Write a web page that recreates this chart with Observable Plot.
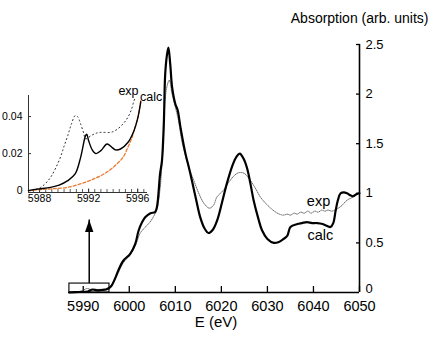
<!DOCTYPE html>
<html><head><meta charset="utf-8">
<script src="https://cdn.jsdelivr.net/npm/d3@7"></script>
<script src="https://cdn.jsdelivr.net/npm/@observablehq/plot@0.6"></script>
<style>
body{margin:0;background:#fff;}
#wrap{position:relative;width:431px;height:340px;font-family:"Liberation Sans",Arial,Helvetica,sans-serif;}
#wrap svg{position:absolute;left:0;top:0;overflow:visible;}
</style></head><body><div id="wrap"></div>
<script>
// ---- main spectrum: calculated ----
const calcE = [5987,5989,5991,5992,5993,5994,5995,5996,5997,5997.6,5998.7,6000.2,6001.3,6002,6002.8,6003.5,6004.6,6005.6,6006.0,6006.7,6007.1,6007.5,6007.8,6008.2,6008.5,6008.9,6009.3,6010.0,6010.5,6011.1,6012.2,6013.0,6013.6,6014.5,6015.4,6016.3,6017.2,6018.1,6019.1,6020.1,6021.2,6022.4,6023.3,6024.0,6024.8,6025.6,6026.3,6027.0,6028.0,6028.8,6030.0,6031.4,6032.5,6033.5,6034.3,6035.0,6036.5,6037.5,6038.6,6039.7,6040.8,6042.0,6043.0,6043.7,6044.3,6044.8,6045.3,6045.9,6046.6,6047.3,6048.0,6048.6,6049.3,6050];
const calcA = [0.0,0.005,0.01,0.03,0.022,0.025,0.03,0.06,0.15,0.22,0.32,0.39,0.49,0.62,0.71,0.76,0.80,0.81,0.86,1.2,1.33,1.70,2.2,2.4,2.47,2.3,2.07,1.9,1.84,1.67,1.40,1.25,1.13,0.94,0.76,0.65,0.60,0.63,0.73,0.9,1.10,1.28,1.37,1.40,1.35,1.25,1.10,0.93,0.75,0.63,0.54,0.50,0.51,0.54,0.57,0.66,0.69,0.70,0.71,0.70,0.70,0.69,0.67,0.66,0.70,0.82,0.93,1.0,1.01,1.0,0.98,0.97,0.99,1.0];
// ---- main spectrum: experimental ----
const expE = [5987,5988.5,5989.7,5990.8,5991.8,5993,5994.3,5995.5,5996.5,5997.6,5998.7,6000.2,6001.3,6002.4,6003.5,6004.5,6005.2,6006.0,6006.7,6007.1,6007.5,6007.8,6008.3,6008.7,6009.3,6010.0,6010.7,6011.4,6012.2,6013.0,6014.0,6015.0,6016.2,6017.4,6018.3,6019.0,6019.8,6020.6,6021.6,6022.6,6023.4,6024.1,6025.0,6026.3,6027.4,6028.5,6029.6,6030.7,6031.8,6032.6,6033.5,6034.3,6035.0,6035.8,6036.5,6037.2,6038.0,6038.8,6039.5,6040.3,6041.0,6041.8,6042.5,6043.2,6044.0,6045.0,6046.0,6047.3,6048.5,6050];
const expA = [0.0,0.005,0.015,0.04,0.028,0.031,0.033,0.05,0.1,0.2,0.3,0.38,0.47,0.6,0.66,0.71,0.76,0.84,1.05,1.3,1.65,1.95,2.1,2.14,2.0,1.87,1.73,1.53,1.38,1.25,1.13,1.01,0.9,0.85,0.88,0.96,1.0,1.04,1.11,1.17,1.2,1.21,1.2,1.13,1.05,0.96,0.9,0.85,0.81,0.79,0.78,0.79,0.78,0.80,0.79,0.81,0.80,0.82,0.80,0.82,0.81,0.83,0.82,0.83,0.82,0.84,0.87,0.93,0.96,1.0];
const xTicks = [5990,6000,6010,6020,6030,6040,6050];
const yTicks = [0.5,1,1.5,2,2.5];
const yZeroTick = [0];
const zoomBox = {x1:5987, x2:5995.7, y1:0, y2:0.09};
const arrow = {x:5991.3, y1:0.09, y2:0.73};
const mainLabels = [{t:"exp", x:6041.1, y:0.92},{t:"calc", x:6041.5, y:0.575}];

// ---- inset (pre-edge) ----
const inCalcE = [5987.1,5987.8,5988.9,5989.6,5990.3,5990.9,5991.35,5991.75,5991.85,5992.0,5992.3,5992.6,5993.0,5993.5,5993.9,5994.2,5994.6,5995.2,5995.7,5996.0,5996.25];
const inCalcA = [0,0.0008,0.0018,0.003,0.0054,0.009,0.018,0.0297,0.0305,0.027,0.022,0.020,0.0216,0.0252,0.0234,0.022,0.0225,0.026,0.0324,0.039,0.048];
const inExpE = [5987.1,5987.6,5988.1,5988.5,5988.9,5989.3,5989.7,5990.0,5990.3,5990.6,5990.9,5991.1,5991.35,5991.6,5991.75,5992.2,5992.6,5993.0,5993.8,5994.3,5994.8,5995.2,5995.5,5995.7,5995.8];
const inExpA = [0,0.0005,0.0018,0.004,0.0072,0.012,0.018,0.024,0.0297,0.036,0.0405,0.040,0.036,0.031,0.028,0.0297,0.031,0.0315,0.0315,0.033,0.036,0.0396,0.044,0.0486,0.05];
const inBgE = [5987.1,5988,5989,5990.3,5991.5,5992.3,5993.0,5993.7,5994.3,5994.8,5995.2,5995.5,5995.7,5996.0,5996.25];
const inBgA = [0,0.0005,0.001,0.0018,0.004,0.006,0.0081,0.011,0.0144,0.018,0.0234,0.028,0.0324,0.039,0.0486];
const inXDomain = [5987.1,5996.8];
const inYDomain = [-0.001,0.0514];
const inXTicks = [5988,5992,5996];
const inXMinor = d3.range(5987.5,5996.8,0.5);
const inYTicks = [0,0.02,0.04];
const inLabels = [{t:"exp", x:5995.25, y:0.054},{t:"calc", x:5997.1, y:0.0505}];

const font = '"Liberation Sans",Arial,Helvetica,sans-serif';
const idx = a => d3.range(a.length);
const head = {draw(ctx){ctx.moveTo(0,-6);ctx.lineTo(4.2,6);ctx.lineTo(-4.2,6);ctx.closePath();}};

const main = Plot.plot({
  width:431, height:340, marginLeft:68, marginRight:72, marginTop:44, marginBottom:48,
  style:{background:"transparent", fontFamily:font, color:"black"},
  x:{domain:[5986.8,6050], label:null},
  y:{domain:[0,2.5], label:null},
  marks:[
    Plot.axisX(xTicks,{tickSize:-6, tickPadding:14, fontSize:14.5, tickFormat:d=>String(d), stroke:"black", strokeWidth:1.3, fill:"black"}),
    Plot.axisY(yTicks,{anchor:"right", tickSize:-4, tickPadding:10, fontSize:13, tickFormat:d=>String(d), stroke:"black", strokeWidth:1.3, fill:"black"}),
    Plot.axisY(yZeroTick,{anchor:"right", tickSize:0, tickPadding:6, dy:-4, fontSize:13, tickFormat:d=>String(d), fill:"black"}),
    Plot.ruleY([0],{stroke:"black", strokeWidth:1.6}),
    Plot.ruleX([6050],{stroke:"black", strokeWidth:1.6}),
    Plot.line(idx(expE),{x:i=>expE[i], y:i=>expA[i], stroke:"#555", strokeWidth:0.9, strokeDasharray:"1 1.2", curve:"catmull-rom"}),
    Plot.line(idx(calcE),{x:i=>calcE[i], y:i=>calcA[i], stroke:"black", strokeWidth:2.2, curve:"catmull-rom"}),
    Plot.rect([zoomBox],{x1:"x1", x2:"x2", y1:"y1", y2:"y2", fill:"none", stroke:"black", strokeWidth:1.1}),
    Plot.ruleX([arrow],{x:"x", y1:"y1", y2:"y2", stroke:"black", strokeWidth:1.5}),
    Plot.dot([arrow],{x:"x", y:"y2", symbol:head, fill:"black", stroke:"none", dy:6}),
    Plot.text(mainLabels,{x:"x", y:"y", text:"t", fontSize:14.5, fill:"black"}),
    Plot.text(["Absorption (arb. units)"],{frameAnchor:"top-right", dx:69, dy:-31, textAnchor:"end", fontSize:14, fill:"black"}),
    Plot.text(["E (eV)"],{frameAnchor:"bottom", dx:2, dy:34, fontSize:15, fill:"black"})
  ]
});

const inset = Plot.plot({
  width:170, height:210, marginLeft:28, marginRight:23, marginTop:95, marginBottom:18,
  style:{background:"transparent", fontFamily:font, color:"black"},
  x:{domain:inXDomain, label:null},
  y:{domain:inYDomain, label:null},
  marks:[
    Plot.axisX(inXMinor,{tickSize:-3, tickFormat:()=>"", stroke:"#333", strokeWidth:0.8}),
    Plot.axisX(inXTicks,{tickSize:-3.5, tickPadding:6, fontSize:10.5, tickFormat:d=>String(d), stroke:"#333", fill:"black"}),
    Plot.axisY(inYTicks,{tickSize:-3, tickPadding:9, fontSize:10.5, tickFormat:d=>d===0?"0":d.toFixed(2), stroke:"#333", fill:"black"}),
    Plot.ruleY([inYDomain[0]],{stroke:"#333", strokeWidth:1}),
    Plot.ruleX([inXDomain[0]],{stroke:"#333", strokeWidth:1}),
    Plot.line(idx(inBgE),{x:i=>inBgE[i], y:i=>inBgA[i], stroke:"#ec7a2f", strokeWidth:1.3, strokeDasharray:"3 2", curve:"catmull-rom"}),
    Plot.line(idx(inExpE),{x:i=>inExpE[i], y:i=>inExpA[i], stroke:"#222", strokeWidth:1, strokeDasharray:"1 3", curve:"catmull-rom"}),
    Plot.line(idx(inCalcE),{x:i=>inCalcE[i], y:i=>inCalcA[i], stroke:"black", strokeWidth:1.4, curve:"catmull-rom"}),
    Plot.text(inLabels,{x:"x", y:"y", text:"t", fontSize:12.5, fill:"black"})
  ]
});

const wrap = document.getElementById("wrap");
wrap.appendChild(main);
wrap.appendChild(inset);
</script></body></html>
